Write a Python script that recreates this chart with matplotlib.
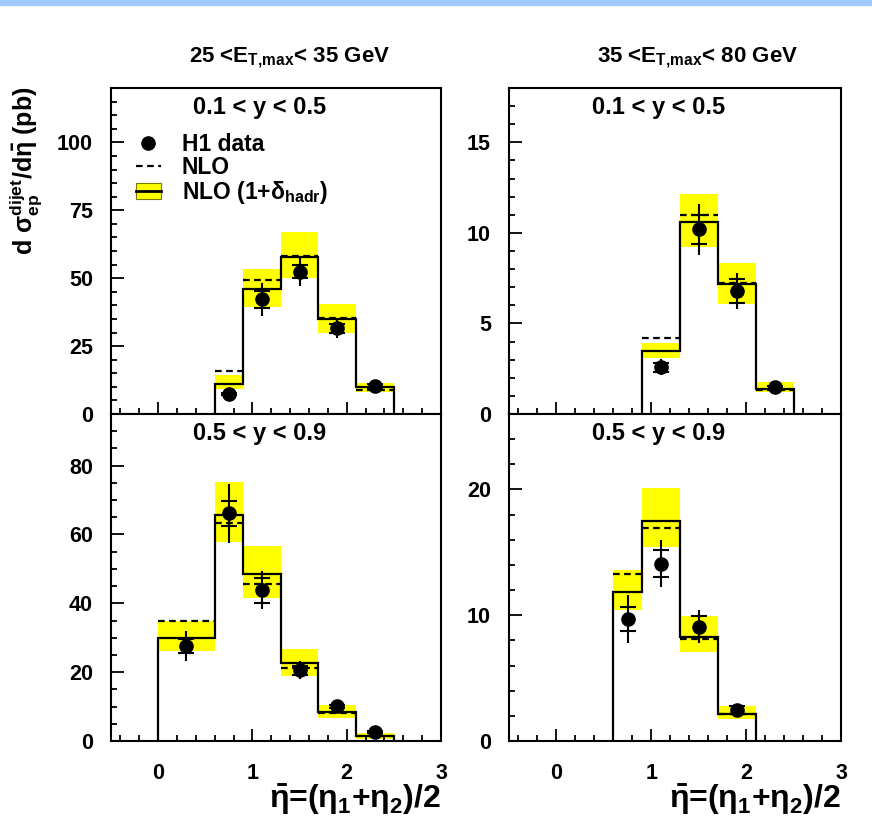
import numpy as np
import matplotlib
matplotlib.use('Agg')
import matplotlib.pyplot as plt
from matplotlib.lines import Line2D
from matplotlib.patches import Patch, Rectangle
from matplotlib.ticker import MultipleLocator

plt.rcParams['font.family'] = ['Liberation Sans', 'DejaVu Sans']
plt.rcParams['font.weight'] = 'bold'
plt.rcParams['mathtext.default'] = 'regular'

# ---- data ----
# top left: 25 < ET,max < 35 GeV, 0.1 < y < 0.5
tl_edges = [0.6, 0.9, 1.3, 1.7, 2.1, 2.5]
tl_nlo = [15.9, 49.3, 58.0, 35.2, 9.0]
tl_had = [10.9, 45.9, 57.9, 34.8, 9.8]
tl_lo = [9.1, 39.5, 50.2, 29.7, 8.0]
tl_hi = [14.3, 53.4, 67.1, 40.5, 11.5]
tl_data = [7.4, 42.2, 52.4, 31.5, 10.3]
tl_tot = [1.0, 6.2, 5.2, 3.5, 1.0]
tl_stat = [0.5, 3.0, 2.5, 1.5, 0.6]

# top right: 35 < ET,max < 80 GeV, 0.1 < y < 0.5
tr_edges = [0.9, 1.3, 1.7, 2.1, 2.5]
tr_nlo = [4.21, 10.99, 7.25, 1.35]
tr_had = [3.48, 10.62, 7.18, 1.36]
tr_lo = [3.07, 9.2, 6.07, 1.23]
tr_hi = [3.9, 12.15, 8.32, 1.78]
tr_data = [2.58, 10.2, 6.79, 1.47]
tr_tot = [0.45, 1.4, 1.0, 0.15]
tr_stat = [0.25, 0.8, 0.65, 0.1]

# bottom left: 25 < ET,max < 35 GeV, 0.5 < y < 0.9
bl_edges = [0.0, 0.6, 0.9, 1.3, 1.7, 2.1, 2.5]
bl_nlo = [34.8, 63.4, 45.6, 21.1, 8.0, 1.4]
bl_had = [30.0, 65.7, 48.4, 22.7, 8.4, 1.4]
bl_lo = [26.2, 57.7, 41.4, 18.8, 6.8, 0.6]
bl_hi = [34.8, 75.3, 56.7, 26.7, 10.6, 2.3]
bl_data = [27.6, 66.1, 43.8, 20.6, 10.1, 2.6]
bl_tot = [4.3, 8.6, 5.5, 2.7, 1.0, 0.4]
bl_stat = [2.0, 3.6, 3.6, 1.3, 0.5, 0.2]

# bottom right: 35 < ET,max < 80 GeV, 0.5 < y < 0.9
br_edges = [0.6, 0.9, 1.3, 1.7, 2.1]
br_nlo = [13.28, 16.95, 8.1, 2.13]
br_had = [11.84, 17.48, 8.25, 2.18]
br_lo = [10.43, 15.40, 7.1, 1.74]
br_hi = [13.62, 20.14, 9.9, 2.8]
br_data = [9.71, 14.1, 9.1, 2.45]
br_tot = [1.9, 1.85, 1.3, 0.5]
br_stat = [0.95, 1.05, 0.85, 0.3]

col_titles = ['25 <E$_{T{,}max}$< 35 GeV', '35 <E$_{T{,}max}$< 80 GeV']
row_labels = ['0.1 < y < 0.5', '0.5 < y < 0.9']
ylabel = r'd $\sigma^{dijet}_{ep}$/d$\bar{\eta}$ (pb)'
xlabel = r'$\bar{\eta}$=($\eta_1$+$\eta_2$)/2'

YELLOW = '#ffff00'

fig = plt.figure(figsize=(8.72, 8.35), dpi=100)
fig.patches.append(Rectangle((0, 1 - 5 / 835), 1, 5 / 835, transform=fig.transFigure,
                             color='#9fc9fb', zorder=0))

W, H = 872.0, 835.0
cols = [(111 / W, 330 / W), (509 / W, 332 / W)]
rows = [(1 - 414 / H, 326 / H), (1 - 741 / H, 327 / H)]

panels = [
    (0, 0, tl_edges, tl_nlo, tl_had, tl_lo, tl_hi, tl_data, tl_tot, tl_stat, 120, 25, 5),
    (0, 1, tr_edges, tr_nlo, tr_had, tr_lo, tr_hi, tr_data, tr_tot, tr_stat, 18, 5, 1),
    (1, 0, bl_edges, bl_nlo, bl_had, bl_lo, bl_hi, bl_data, bl_tot, bl_stat, 95, 20, 5),
    (1, 1, br_edges, br_nlo, br_had, br_lo, br_hi, br_data, br_tot, br_stat, 26, 10, 2),
]

axes = {}
for r, c, edges, nlo, had, lo, hi, dat, tot, stat, ymax, ymaj, ymin in panels:
    ax = fig.add_axes([cols[c][0], rows[r][0], cols[c][1], rows[r][1]])
    axes[(r, c)] = ax
    edges = np.array(edges)
    centres = 0.5 * (edges[:-1] + edges[1:])

    ax.stairs(hi, edges, baseline=lo, fill=True, color=YELLOW, lw=0, zorder=1)
    ax.stairs(had, edges, baseline=0, color='black', lw=1.6, zorder=3)
    ax.hlines(nlo, edges[:-1], edges[1:], colors='black', lw=1.6,
              linestyles=(0, (3, 2)), zorder=3)
    ax.errorbar(centres, dat, yerr=tot, fmt='o', color='black', ms=9.5,
                elinewidth=1.5, capsize=0, zorder=5)
    dat = np.array(dat)
    stat = np.array(stat)
    ax.plot(np.r_[centres, centres], np.r_[dat + stat, dat - stat], ls='none',
            marker='_', ms=11, mew=1.5, color='black', zorder=5)

    ax.xaxis.set_major_locator(MultipleLocator(1))
    ax.xaxis.set_minor_locator(MultipleLocator(0.2))
    # labelled ticks from 0 up to (not including) the top of the panel
    ax.set_yticks(np.arange(0, ymax - 0.01, ymaj))
    ax.yaxis.set_minor_locator(MultipleLocator(ymin))
    ax.set_xlim(-0.5, 3.0)
    ax.set_ylim(0, ymax)
    ax.tick_params(which='both', direction='in', top=False, right=False, width=1.3)
    ax.tick_params(which='major', length=9)
    ax.tick_params(which='minor', length=4.5)
    ax.tick_params(axis='y', labelsize=15.5, pad=13)
    ax.tick_params(axis='x', labelsize=15.5, pad=16)
    if r == 0:
        ax.tick_params(axis='x', labelbottom=False)
    for s in ax.spines.values():
        s.set_linewidth(1.5)
    ax.text(0.45, 0.975, row_labels[r], transform=ax.transAxes, ha='center', va='top',
            fontsize=17)

# legend in top-left panel
h_data = Line2D([], [], marker='o', ls='none', color='black', ms=9.5)
h_nlo = Line2D([], [], ls=(0, (3, 2)), color='black', lw=1.6)
h_had = (Patch(facecolor=YELLOW, edgecolor='#7a7a00', lw=0.8), Line2D([], [], color='black', lw=2))
axes[(0, 0)].legend([h_data, h_nlo, h_had], ['H1 data', 'NLO', r'NLO (1+$\delta_{hadr}$)'],
                    loc='upper left', bbox_to_anchor=(0.047, 0.89), frameon=False,
                    fontsize=16.5, handlelength=1.1, handletextpad=0.9, labelspacing=0.0,
                    borderaxespad=0)

fig.text(290 / W, 1 - 58 / H, col_titles[0], ha='center', va='center', fontsize=16)
fig.text(698 / W, 1 - 58 / H, col_titles[1], ha='center', va='center', fontsize=16)
fig.text(26 / W, 1 - 86 / H, ylabel, rotation=90, ha='center', va='top', fontsize=18)
fig.text(441 / W, 1 - 800 / H, xlabel, ha='right', va='center', fontsize=23)
fig.text(841 / W, 1 - 800 / H, xlabel, ha='right', va='center', fontsize=23)

fig.savefig('out.png', dpi=100)
